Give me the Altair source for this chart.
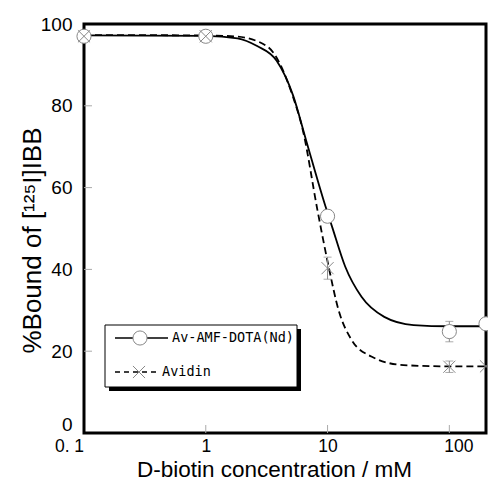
import altair as alt
import pandas as pd

# ---- data ----
fit_av_x = [0.1, 1, 1.82, 2.64, 3.82, 5.2, 6.66, 9.64, 10.9, 13.95, 19, 29.2, 50.9, 100, 200]
fit_av_y = [97.2, 97.1, 96.5, 94.6, 91.0, 82.6, 71.6, 55.3, 50.4, 40.7, 33.3, 28.4, 26.4, 26.1, 26.1]
fit_avd_x = [0.1, 1, 1.82, 3.2, 5.2, 6.26, 8.26, 10.2, 12.3, 15.8, 22.9, 42, 100, 200]
fit_avd_y = [97.3, 97.2, 96.9, 94.5, 82.2, 74.1, 54.5, 40.7, 30.1, 22.7, 18.7, 16.6, 16.3, 16.3]

conc = [0.1, 1, 10, 100, 200]
av_y = [97, 97, 53, 24.8, 26.7]
av_err = [0, 0, 1.5, 2.5, 0]
avd_y = [97, 97, 40.3, 16.2, 16.3]
avd_err = [0, 0, 2.7, 1.4, 0]

x_tick_vals = [1, 10, 100]
y_tick_vals = [20, 40, 60, 80]
x_label_vals = [0.1, 1, 10, 100]
y_label_vals = [0, 20, 40, 60, 80, 100]
series_names = ["Av-AMF-DOTA(Nd)", "Avidin"]

W, H = 402, 409

fit_av = pd.DataFrame({"x": fit_av_x, "y": fit_av_y})
fit_avd = pd.DataFrame({"x": fit_avd_x, "y": fit_avd_y})
pts_av = pd.DataFrame({"x": conc, "y": av_y, "lo": [a - b for a, b in zip(av_y, av_err)],
                       "hi": [a + b for a, b in zip(av_y, av_err)], "e": av_err})
pts_avd = pd.DataFrame({"x": conc, "y": avd_y, "lo": [a - b for a, b in zip(avd_y, avd_err)],
                        "hi": [a + b for a, b in zip(avd_y, avd_err)], "e": avd_err})

xscale = alt.Scale(type="log", domain=[0.1, 200], nice=False)
yscale = alt.Scale(domain=[0, 100], nice=False, zero=False)

x_axis = alt.Axis(
    values=x_label_vals, grid=False, domain=False, ticks=False,
    labelExpr="datum.value < 0.5 ? '0. 1' : format(datum.value, 'd')",
    labelFont="Liberation Sans", labelFontSize=17.5, labelColor="black", labelPadding=4,
    labelFlush=False, labelOverlap=False,
    labelOffset={"condition": [{"test": "datum.value < 0.5", "value": -15},
                               {"test": "datum.value > 50", "value": 9}], "value": 0},
    title="D-biotin concentration / mM", titleFont="Liberation Sans", titleFontSize=22.5,
    titleFontWeight="normal", titleColor="black", titleX=190, titleY=43.5,
    titleBaseline="alphabetic", titleAlign="center", titleAnchor="middle",
)
y_axis = alt.Axis(
    values=y_label_vals, grid=False, domain=False, ticks=False,
    labelFont="Liberation Sans", labelFontSize=19, labelColor="black", labelPadding=12,
    labelFlush=False, labelOverlap=False,
    labelOffset={"condition": {"test": "datum.value == 0", "value": -9}, "value": 0},
    title="%Bound of [¹²⁵I]IBB", titleFont="Liberation Sans", titleFontSize=26,
    titleFontWeight="normal", titleColor="black", titleX=-44, titleY=216,
    titleBaseline="alphabetic", titleAlign="center", titleAngle=270, titleAnchor="middle",
)

X = alt.X("x:Q", scale=xscale, axis=x_axis)
Y = alt.Y("y:Q", scale=yscale, axis=y_axis)

line_av = alt.Chart(fit_av).mark_line(color="black", strokeWidth=1.8, interpolate="monotone").encode(x=X, y=Y)
line_avd = alt.Chart(fit_avd).mark_line(color="black", strokeWidth=1.8, strokeDash=[7, 4],
                                        interpolate="monotone").encode(x=X, y=Y)

xt = alt.Chart(pd.DataFrame({"x": x_tick_vals})).mark_rule(color="#aaaaaa", strokeWidth=1).encode(
    x=alt.X("x:Q", scale=xscale), y=alt.value(H), y2=alt.value(H - 8))
yt = alt.Chart(pd.DataFrame({"y": y_tick_vals})).mark_rule(color="#aaaaaa", strokeWidth=1).encode(
    y=alt.Y("y:Q", scale=yscale), x=alt.value(0), x2=alt.value(8))


def errbars(df):
    d = df[df["e"] > 0]
    bar = alt.Chart(d).mark_rule(color="#888888", strokeWidth=1).encode(
        x=alt.X("x:Q", scale=xscale), y=alt.Y("lo:Q", scale=yscale), y2="hi:Q")
    cap_lo = alt.Chart(d).mark_tick(color="#888888", orient="horizontal", size=8, thickness=1).encode(
        x=alt.X("x:Q", scale=xscale), y=alt.Y("lo:Q", scale=yscale))
    cap_hi = alt.Chart(d).mark_tick(color="#888888", orient="horizontal", size=8, thickness=1).encode(
        x=alt.X("x:Q", scale=xscale), y=alt.Y("hi:Q", scale=yscale))
    return bar + cap_lo + cap_hi


XPATH = "M-0.75,-0.75L0.75,0.75M-0.75,0.75L0.75,-0.75"

circ = alt.Chart(pts_av).mark_point(shape="circle", size=200, filled=False, fill="white",
                                    fillOpacity=1, stroke="#888888", strokeWidth=1, opacity=1).encode(
    x=alt.X("x:Q", scale=xscale), y=alt.Y("y:Q", scale=yscale))
crosses = alt.Chart(pts_avd).mark_point(shape=XPATH, size=260, stroke="#888888", strokeWidth=1,
                                        opacity=1).encode(
    x=alt.X("x:Q", scale=xscale), y=alt.Y("y:Q", scale=yscale))

# ---- legend box ----
one = pd.DataFrame({"name": [series_names[0]]})
two = pd.DataFrame({"name": [series_names[1]]})
shadow = alt.Chart(one).mark_rect(color="black").encode(
    x=alt.value(25), x2=alt.value(217), y=alt.value(305), y2=alt.value(367))
box = alt.Chart(one).mark_rect(fill="white", stroke="black", strokeWidth=1).encode(
    x=alt.value(21), x2=alt.value(213), y=alt.value(301), y2=alt.value(363))
lg_l1 = alt.Chart(one).mark_rule(color="black", strokeWidth=1.5).encode(
    x=alt.value(31), x2=alt.value(84), y=alt.value(314))
lg_l2 = alt.Chart(two).mark_rule(color="black", strokeWidth=1.5, strokeDash=[5, 4]).encode(
    x=alt.value(31), x2=alt.value(74), y=alt.value(348))
lg_c = alt.Chart(one).mark_point(shape="circle", size=200, fill="white", filled=False, fillOpacity=1,
                                 stroke="#888888", strokeWidth=1, opacity=1).encode(
    x=alt.value(56), y=alt.value(314))
lg_x = alt.Chart(two).mark_point(shape=XPATH, size=260, stroke="#888888", strokeWidth=1, opacity=1).encode(
    x=alt.value(55), y=alt.value(348))
lg_t1 = alt.Chart(one).mark_text(align="left", baseline="middle", font="DejaVu Sans Mono",
                                 fontSize=13.5, color="black").encode(
    x=alt.value(88), y=alt.value(314), text="name:N")
lg_t2 = alt.Chart(two).mark_text(align="left", baseline="middle", font="DejaVu Sans Mono",
                                 fontSize=13.5, color="black").encode(
    x=alt.value(78), y=alt.value(348), text="name:N")

chart = alt.layer(
    line_av, line_avd, xt, yt, errbars(pts_av), errbars(pts_avd), circ, crosses,
    shadow, box, lg_l1, lg_l2, lg_c, lg_x, lg_t1, lg_t2,
).properties(
    width=W, height=H,
    autosize=alt.AutoSizeParams(type="none"),
    padding={"left": 76, "top": 16, "right": 2, "bottom": 48},
    background="white",
).configure_view(stroke="black", strokeWidth=3)

chart.save("out.html", embed_options={"renderer": "svg", "actions": False})
